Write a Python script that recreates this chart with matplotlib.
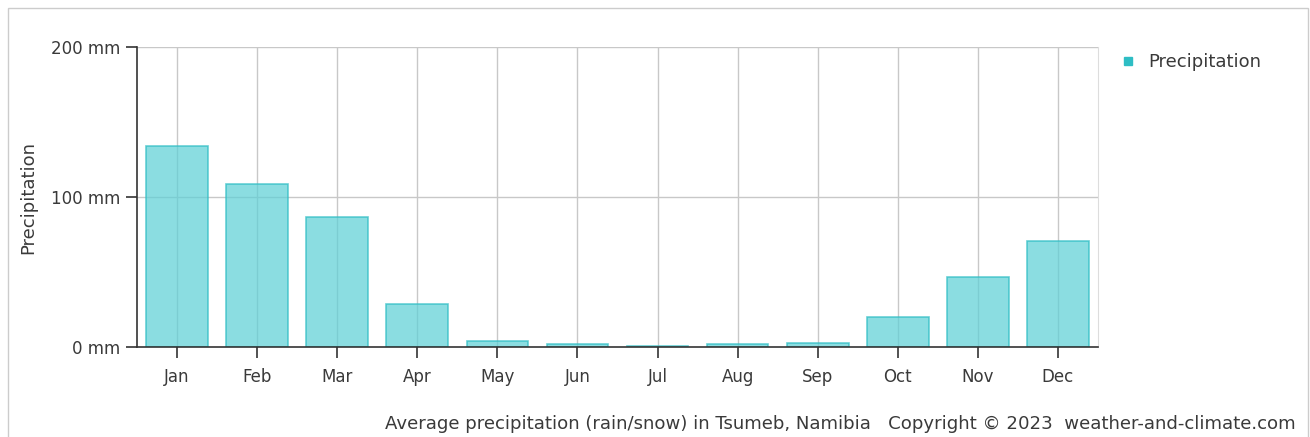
import matplotlib
matplotlib.use("Agg")
import matplotlib.pyplot as plt
from matplotlib.patches import Rectangle
from matplotlib.lines import Line2D

months = ["Jan", "Feb", "Mar", "Apr", "May", "Jun", "Jul", "Aug", "Sep", "Oct", "Nov", "Dec"]
precip_mm = [134, 109, 87, 29, 4, 2, 1, 2, 3, 20, 47, 71]
y_ticks = [0, 100, 200]
y_tick_labels = ["0 mm", "100 mm", "200 mm"]

plt.rcParams['font.family'] = ['DejaVu Sans']
text_col = "#3a3a3a"

fig = plt.figure(figsize=(13.1, 4.37), dpi=100)
fig.patch.set_facecolor("white")

# outer frame
fig.patches.append(Rectangle((8/1310, -0.01), 1300/1310, 1 - 8/437 + 0.01,
                             transform=fig.transFigure, fill=False,
                             edgecolor="#cccccc", linewidth=1.0))

ax = fig.add_axes([137/1310, 90/437, 961/1310, 300/437])
x = list(range(len(months)))

ax.set_xlim(-0.5, 11.5)
ax.set_ylim(0, 200)

for xi in x:
    ax.axvline(xi, color="#c8c8c8", linewidth=1.0, zorder=1)
for yv in [100, 200]:
    ax.axhline(yv, color="#c8c8c8", linewidth=1.0, zorder=1)

ax.bar(x, precip_mm, width=0.77, color="#5fd0d6", alpha=0.72,
       edgecolor="#2ebdc4", linewidth=1.2, zorder=2)

ax.set_xticks(x)
ax.set_xticklabels(months)
ax.set_yticks(y_ticks)
ax.set_yticklabels(y_tick_labels)
ax.tick_params(axis="both", colors="#333333", labelcolor=text_col,
               labelsize=12, length=8, width=1.2)
ax.tick_params(axis="x", pad=7)
ax.tick_params(axis="y", pad=4)

ax.spines["top"].set_visible(False)
ax.spines["right"].set_color("#dddddd")
ax.spines["left"].set_color("#333333")
ax.spines["bottom"].set_color("#333333")
ax.spines["left"].set_linewidth(1.2)
ax.spines["bottom"].set_linewidth(1.2)

ax.set_ylabel("Precipitation", color=text_col, fontsize=13, labelpad=10)

handle = Line2D([], [], marker="s", linestyle="none", markersize=6,
                color="#2ebdc4")
fig.legend([handle], ["Precipitation"], loc="upper left",
           bbox_to_anchor=(1094/1310, 1 - 37/437), frameon=False,
           fontsize=13, labelcolor=text_col, handletextpad=0.1)

fig.text(1296/1310, 1 - 424/437,
         "Average precipitation (rain/snow) in Tsumeb, Namibia   Copyright \u00a9 2023  weather-and-climate.com",
         ha="right", va="center", fontsize=13.1, color=text_col)

fig.savefig("out.png", dpi=100)
